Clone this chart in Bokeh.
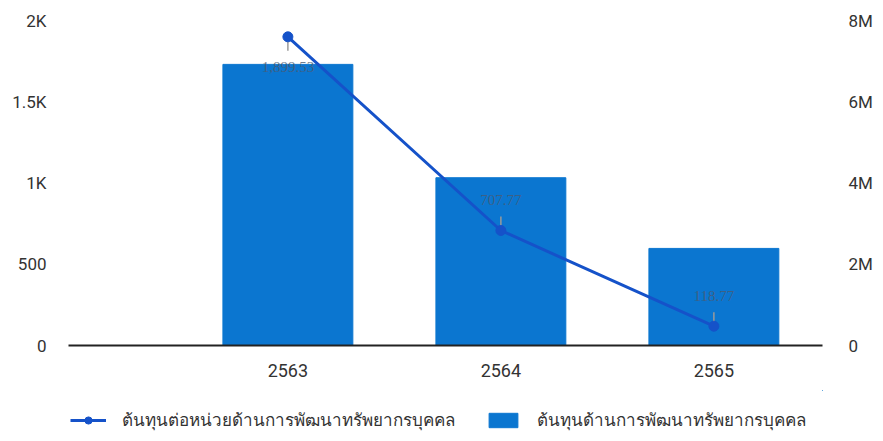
from bokeh.plotting import figure
from bokeh.layouts import column
from bokeh.models import (ColumnDataSource, Range1d, LinearAxis, FixedTicker,
                          Legend, LegendItem, LabelSet)
from bokeh.embed import file_html
from bokeh.resources import INLINE

years = [2563, 2564, 2565]
year_labels = ["2563", "2564", "2565"]
total_cost = [6.92e6, 4.13e6, 2.39e6]          # bars, right axis
unit_cost = [1899.53, 707.77, 118.77]           # line, left axis
unit_cost_text = ["1,899.53", "707.77", "118.77"]
left_ticks = [0, 500, 1000, 1500, 2000]
left_tick_labels = ["0", "500", "1K", "1.5K", "2K"]
right_ticks = [0, 2e6, 4e6, 6e6, 8e6]
right_tick_labels = ["0", "2M", "4M", "6M", "8M"]
line_name = "ต้นทุนต่อหน่วยด้านการพัฒนาทรัพยากรบุคคล"
bar_name = "ต้นทุนด้านการพัฒนาทรัพยากรบุคคล"

BAR = "#0b76d0"
LINE = "#1552c9"
TXT = "#333333"
FONT = "Roboto"

p = figure(width=875, height=390, output_backend="svg", toolbar_location=None,
           x_range=Range1d(2561.97, 2565.51), y_range=Range1d(0, 2000),
           min_border_left=68, min_border_right=47, min_border_top=20,
           min_border_bottom=45)
p.outline_line_color = None
p.grid.visible = False
p.background_fill_color = "white"
p.border_fill_color = "white"

p.extra_y_ranges = {"money": Range1d(0, 8e6)}

src = ColumnDataSource(dict(x=years, total=total_cost, unit=unit_cost,
                            txt=unit_cost_text))

p.vbar(x="x", top="total", width=0.61, source=src, y_range_name="money",
       fill_color=BAR, line_color=BAR)

# connector ticks between points and labels
px = 2000 / 325.0
dirs = [-1, 1, 1]
seg = ColumnDataSource(dict(x=years,
                            y0=[u + d * 3 * px for u, d in zip(unit_cost, dirs)],
                            y1=[u + d * 14 * px for u, d in zip(unit_cost, dirs)]))
p.segment(x0="x", x1="x", y0="y0", y1="y1", source=seg, line_color="#9a9a9a",
          line_width=1.5)

p.line("x", "unit", source=src, line_color=LINE, line_width=3)
p.scatter("x", "unit", source=src, size=10, fill_color=LINE, line_color=LINE)

lab_src = ColumnDataSource(dict(x=years,
                                y=[u + d * 30 * px for u, d in zip(unit_cost, dirs)],
                                txt=unit_cost_text))
p.add_layout(LabelSet(x="x", y="y", text="txt", source=lab_src,
                      text_align="center", text_baseline="middle",
                      text_font=FONT, text_font_size="15px",
                      text_color="#4a5a70", text_alpha=0.8))

# left axis
ya = p.yaxis[0]
ya.ticker = FixedTicker(ticks=left_ticks)
ya.major_label_overrides = {t: l for t, l in zip(left_ticks, left_tick_labels)}
ya.axis_line_color = None
ya.major_tick_line_color = None
ya.minor_tick_line_color = None
ya.major_label_text_font = FONT
ya.major_label_text_font_size = "17px"
ya.major_label_text_color = TXT
ya.major_label_standoff = 16

ra = LinearAxis(y_range_name="money", ticker=FixedTicker(ticks=right_ticks))
ra.major_label_overrides = {t: l for t, l in zip(right_ticks, right_tick_labels)}
ra.axis_line_color = None
ra.major_tick_line_color = None
ra.minor_tick_line_color = None
ra.major_label_text_font = FONT
ra.major_label_text_font_size = "17px"
ra.major_label_text_color = TXT
ra.major_label_standoff = 20
p.add_layout(ra, "right")

xa = p.xaxis[0]
xa.ticker = FixedTicker(ticks=years)
xa.major_label_overrides = {y: l for y, l in zip(years, year_labels)}
xa.axis_line_color = "#222222"
xa.axis_line_width = 2
xa.major_tick_line_color = None
xa.minor_tick_line_color = None
xa.major_label_text_font = FONT
xa.major_label_text_font_size = "18px"
xa.major_label_text_color = TXT
xa.major_label_standoff = 12

# legend strip (frame is aligned with the main plot's frame by the column layout)
lg = figure(width=875, height=43, output_backend="svg", toolbar_location=None,
            x_axis_type=None, y_axis_type=None, min_border=0,
            x_range=Range1d(0, 1), y_range=Range1d(-2, -1))
lg.outline_line_color = None
lg.grid.visible = False
# proxies share the real data but fall outside this strip's ranges
l_ln = lg.line("x", "unit", source=src, line_color=LINE, line_width=3)
l_pt = lg.scatter("x", "unit", source=src, size=10, fill_color=LINE, line_color=LINE)
l_bar = lg.vbar(x="x", top="total", bottom="unit", width=0.61, source=src,
                fill_color=BAR, line_color=BAR)
legend = Legend(items=[LegendItem(label=line_name, renderers=[l_ln, l_pt], index=0),
                       LegendItem(label=bar_name, renderers=[l_bar], index=0)],
                orientation="horizontal", location=(2, 0),
                label_text_font="Noto Sans", label_text_font_size="17px",
                label_text_color=TXT, glyph_width=36, glyph_height=18,
                spacing=30, label_standoff=16, border_line_color=None,
                background_fill_alpha=0, padding=0, margin=0)
lg.add_layout(legend, "center")

open("out.html", "w").write(file_html(column(p, lg, spacing=0), INLINE))
